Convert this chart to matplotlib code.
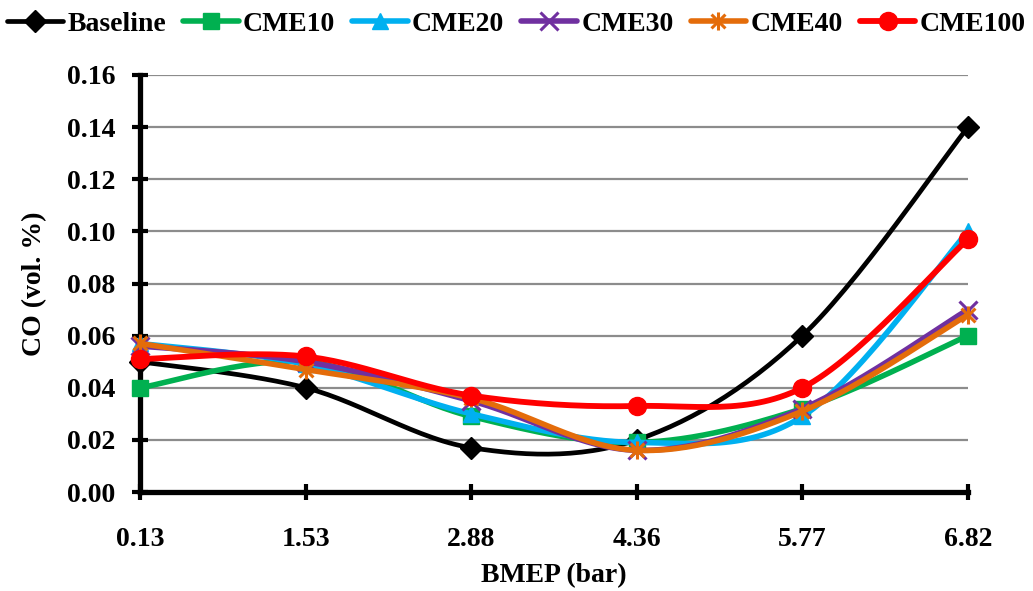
import numpy as np
import matplotlib
matplotlib.use("Agg")
import matplotlib.pyplot as plt
from matplotlib.path import Path

# BMEP load points (category axis) and CO emissions for each fuel
bmep_labels = ["0.13", "1.53", "2.88", "4.36", "5.77", "6.82"]
baseline = [0.050, 0.040, 0.017, 0.020, 0.060, 0.140]
cme10 = [0.040, 0.050, 0.029, 0.019, 0.032, 0.060]
cme20 = [0.057, 0.049, 0.030, 0.019, 0.029, 0.100]
cme30 = [0.056, 0.050, 0.035, 0.016, 0.032, 0.070]
cme40 = [0.057, 0.047, 0.036, 0.016, 0.031, 0.068]
cme100 = [0.051, 0.052, 0.037, 0.033, 0.040, 0.097]

# star marker: an X crossed by a vertical bar
star = Path([(-1, -1), (1, 1), (-1, 1), (1, -1), (0, -1.3), (0, 1.3)],
            [Path.MOVETO, Path.LINETO, Path.MOVETO, Path.LINETO,
             Path.MOVETO, Path.LINETO])

series = [
    ("Baseline", baseline, "#000000", "D", 11, 3.4),
    ("CME10", cme10, "#00B050", "s", 11, 4.0),
    ("CME20", cme20, "#00B0F0", "^", 12, 4.0),
    ("CME30", cme30, "#7030A0", "x", 13, 4.0),
    ("CME40", cme40, "#E46C0A", star, 13, 4.0),
    ("CME100", cme100, "#FF0000", "o", 13, 4.2),
]

plt.rcParams["font.family"] = ["Liberation Serif", "DejaVu Serif"]
plt.rcParams["font.weight"] = "bold"


def smooth(x, y, n=30):
    """Cubic Bezier smoothing through every point (Catmull-Rom tangents)."""
    x = np.asarray(x, float)
    y = np.asarray(y, float)
    px = np.concatenate([[x[0]], x, [x[-1]]])
    py = np.concatenate([[y[0]], y, [y[-1]]])
    xs, ys, idx = [], [], []
    t = np.linspace(0, 1, n, endpoint=False)
    for i in range(len(x) - 1):
        p0 = np.array([px[i + 1], py[i + 1]])
        p3 = np.array([px[i + 2], py[i + 2]])
        c1 = p0 + (p3 - np.array([px[i], py[i]])) / 6.0
        c2 = p3 - (np.array([px[i + 3], py[i + 3]]) - p0) / 6.0
        b = ((1 - t) ** 3)[:, None] * p0 + (3 * (1 - t) ** 2 * t)[:, None] * c1 \
            + (3 * (1 - t) * t ** 2)[:, None] * c2 + (t ** 3)[:, None] * p3
        idx.append(len(xs))
        xs.extend(b[:, 0])
        ys.extend(b[:, 1])
    idx.append(len(xs))
    xs.append(x[-1])
    ys.append(y[-1])
    return np.array(xs), np.array(ys), idx


fig = plt.figure(figsize=(10.33, 5.91), dpi=100)
ax = fig.add_axes([140 / 1033, 1 - 492 / 591, (968 - 140) / 1033, (492 - 75) / 591])

xpos = np.arange(len(bmep_labels))
for name, vals, color, marker, ms, lw in series:
    sx, sy, idx = smooth(xpos, vals)
    stroked = isinstance(marker, Path) or marker == "x"
    ax.plot(sx, sy, color=color, lw=lw, marker=marker, markevery=idx,
            markersize=ms, markerfacecolor=color, markeredgecolor=color,
            markeredgewidth=2.2 if stroked else 1, label=name,
            solid_capstyle="round", clip_on=False)

ax.set_xlim(0, len(bmep_labels) - 1)
ax.set_ylim(0, 0.16)
yt = np.arange(0, 0.161, 0.02)
ax.set_yticks(yt)
ax.set_yticklabels([f"{v:.2f}" for v in yt])
ax.set_xticks(xpos)
ax.set_xticklabels(bmep_labels)

ax.yaxis.grid(True, color="#8C8C8C", lw=1.6)
ax.set_axisbelow(True)
for side in ("top", "right"):
    ax.spines[side].set_visible(False)
for side in ("left", "bottom"):
    ax.spines[side].set_linewidth(3.8)
    ax.spines[side].set_color("black")
    ax.spines[side].set_zorder(1.5)

ax.tick_params(axis="both", direction="inout", length=12, width=3.0,
               labelsize=20, color="black")
ax.tick_params(axis="y", pad=12)
ax.tick_params(axis="x", pad=19)
for lab in ax.get_xticklabels() + ax.get_yticklabels():
    lab.set_fontweight("bold")

ax.set_xlabel("BMEP (bar)", fontsize=20, fontweight="bold", labelpad=8)
ax.set_ylabel("CO (vol. %)", fontsize=20, fontweight="bold", labelpad=14)

fig.legend(loc="center", bbox_to_anchor=(0.5, 1 - 24 / 591), ncol=6,
           frameon=False, handlelength=2.0, handletextpad=0.15,
           columnspacing=0.62, borderaxespad=0,
           prop={"weight": "bold", "size": 20})

fig.savefig("out.png", dpi=100)
